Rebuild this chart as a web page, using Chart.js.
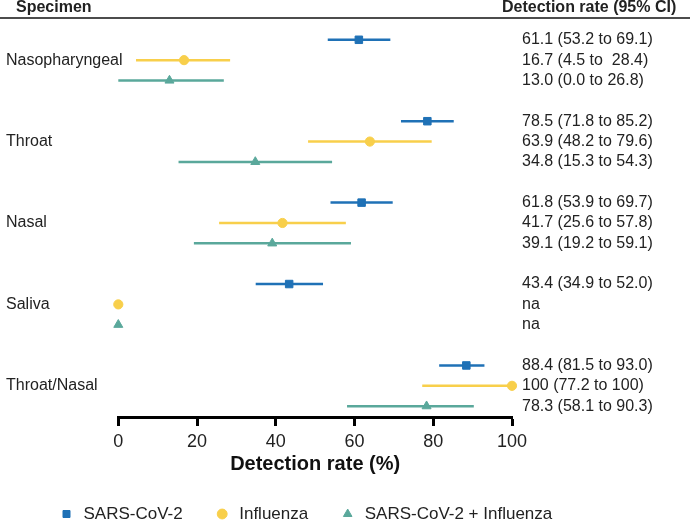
<!DOCTYPE html>
<html><head><meta charset="utf-8">
<script src="https://cdn.jsdelivr.net/npm/chart.js@4"></script>
<style>html,body{margin:0;padding:0;background:#fff}</style>
</head><body>
<canvas id="c" width="690" height="522"></canvas>
<script>
// ---- data ----
const specimens = ['Nasopharyngeal', 'Throat', 'Nasal', 'Saliva', 'Throat/Nasal'];
const seriesNames = ['SARS-CoV-2', 'Influenza', 'SARS-CoV-2 + Influenza'];

const sarsRate = [61.1, 78.5, 61.8, 43.4, 88.4];
const sarsLow  = [53.2, 71.8, 53.9, 34.9, 81.5];
const sarsHigh = [69.1, 85.2, 69.7, 52.0, 93.0];

// Saliva influenza / combined are "na" in the source and drawn at 0
const fluRate = [16.7, 63.9, 41.7, 0, 100];
const fluLow  = [4.5, 48.2, 25.6, null, 77.2];
const fluHigh = [28.4, 79.6, 57.8, null, 100];

const comboRate = [13.0, 34.8, 39.1, 0, 78.3];
const comboLow  = [0.0, 15.3, 19.2, null, 58.1];
const comboHigh = [26.8, 54.3, 59.1, null, 90.3];

const sarsText  = ['61.1 (53.2 to 69.1)', '78.5 (71.8 to 85.2)', '61.8 (53.9 to 69.7)', '43.4 (34.9 to 52.0)', '88.4 (81.5 to 93.0)'];
const fluText   = ['16.7 (4.5 to  28.4)', '63.9 (48.2 to 79.6)', '41.7 (25.6 to 57.8)', 'na', '100 (77.2 to 100)'];
const comboText = ['13.0 (0.0 to 26.8)', '34.8 (15.3 to 54.3)', '39.1 (19.2 to 59.1)', 'na', '78.3 (58.1 to 90.3)'];

const xTicks = [0, 20, 40, 60, 80, 100];

// ---- styling ----
const colors = ['#1f71b6', '#f8cf4b', '#5aa89b'];
const FONT = "'Liberation Sans', Arial, Helvetica, sans-serif";
Chart.defaults.font.family = FONT;

const rates = [sarsRate, fluRate, comboRate];
const lows = [sarsLow, fluLow, comboLow];
const highs = [sarsHigh, fluHigh, comboHigh];
const texts = [sarsText, fluText, comboText];
const rowPos = (g, k) => g * 4 + k;

const styles = [
  {pointStyle: 'rect', pointRadius: 5.3},
  {pointStyle: 'circle', pointRadius: 4.6},
  {pointStyle: 'triangle', pointRadius: 5.2}
];

const datasets = seriesNames.map((name, k) => ({
  label: name,
  data: rates[k].map((v, g) => ({x: v, y: rowPos(g, k)})),
  pointStyle: styles[k].pointStyle,
  pointRadius: styles[k].pointRadius,
  pointHoverRadius: styles[k].pointRadius,
  backgroundColor: colors[k],
  borderColor: colors[k],
  borderWidth: 1,
  showLine: false,
  clip: false
}));

const forestPlugin = {
  id: 'forest',
  beforeDatasetsDraw(chart) {
    const {ctx, scales: {x, y}} = chart;
    ctx.save();
    ctx.lineWidth = 2.5;
    for (let k = 0; k < 3; k++) {
      ctx.strokeStyle = colors[k];
      for (let g = 0; g < specimens.length; g++) {
        if (lows[k][g] == null) continue;
        const py = y.getPixelForValue(rowPos(g, k));
        ctx.beginPath();
        ctx.moveTo(x.getPixelForValue(lows[k][g]), py);
        ctx.lineTo(x.getPixelForValue(highs[k][g]), py);
        ctx.stroke();
      }
    }
    ctx.restore();
  },
  afterDraw(chart) {
    const {ctx, scales: {y}} = chart;
    ctx.save();
    // header
    ctx.fillStyle = '#222';
    ctx.textBaseline = 'middle';
    ctx.textAlign = 'left';
    ctx.font = 'bold 16px ' + FONT;
    ctx.fillText('Specimen', 16, 8);
    ctx.fillText('Detection rate (95% CI)', 502, 8);
    ctx.strokeStyle = '#111';
    ctx.lineWidth = 1.5;
    ctx.beginPath();
    ctx.moveTo(0, 18);
    ctx.lineTo(690, 18);
    ctx.stroke();
    // specimen labels
    ctx.font = '16px ' + FONT;
    specimens.forEach((s, g) => {
      ctx.fillText(s, 6, y.getPixelForValue(rowPos(g, 1)));
    });
    // CI texts
    for (let g = 0; g < specimens.length; g++) {
      for (let k = 0; k < 3; k++) {
        ctx.fillText(texts[k][g], 522, y.getPixelForValue(rowPos(g, k)));
      }
    }
    ctx.restore();
  }
};

new Chart(document.getElementById('c'), {
  type: 'scatter',
  data: {datasets},
  options: {
    responsive: false,
    animation: false,
    devicePixelRatio: 1,
    events: [],
    layout: {padding: {left: 27, right: 0, top: 0, bottom: -10.5}},
    plugins: {
      tooltip: {enabled: false},
      legend: {
        display: true,
        position: 'bottom',
        align: 'start',
        labels: {
          usePointStyle: true,
          boxWidth: 17,
          boxHeight: 7,
          padding: 31,
          color: '#222',
          font: {size: 17, family: FONT}
        }
      }
    },
    scales: {
      x: {
        type: 'linear',
        position: 'bottom',
        min: xTicks[0],
        max: xTicks[xTicks.length - 1],
        afterBuildTicks: (s) => { s.ticks = xTicks.map(v => ({value: v})); },
        ticks: {color: '#222', font: {size: 18, family: FONT}, padding: 5},
        grid: {display: true, drawOnChartArea: false, drawTicks: true, tickLength: 9, tickWidth: 3, tickColor: '#000'},
        border: {display: true, color: '#000', width: 3},
        title: {display: true, text: 'Detection rate (%)', color: '#111',
                font: {size: 20, weight: 'bold', family: FONT, lineHeight: 1}, padding: 0},
        afterFit: (s) => { s.height = 57.5; }
      },
      y: {
        type: 'linear',
        position: 'left',
        reverse: true,
        min: -1.645,
        max: 18.532,
        grid: {display: false},
        ticks: {display: false},
        border: {display: false},
        afterFit: (s) => { s.width = 91.3; }
      },
      y2: {
        type: 'linear',
        position: 'right',
        grid: {display: false},
        ticks: {display: false},
        border: {display: false},
        afterFit: (s) => { s.width = 178; }
      }
    }
  },
  plugins: [forestPlugin]
});
</script>
</body></html>
